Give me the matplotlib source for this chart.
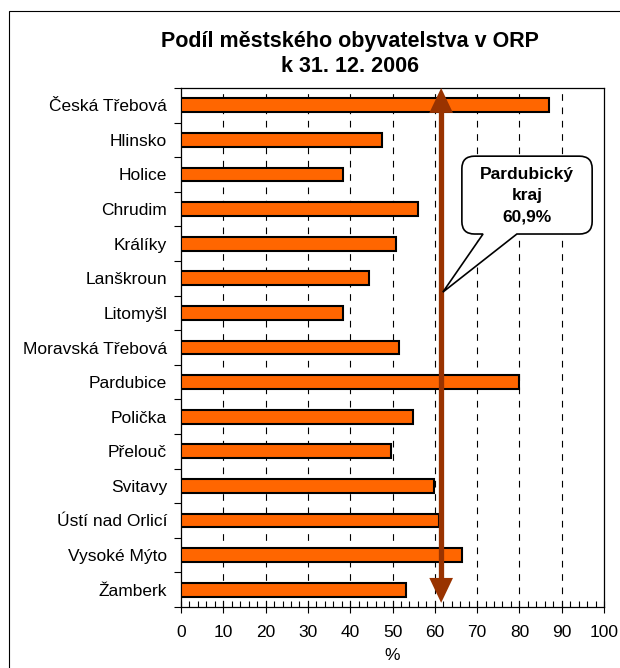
import numpy as np
import matplotlib.pyplot as plt
from matplotlib.patches import Rectangle, PathPatch, Polygon
from matplotlib.path import Path
from matplotlib.ticker import MultipleLocator

plt.rcParams['font.family'] = ['Liberation Sans', 'DejaVu Sans']

# share of urban population per ORP (%)
districts = ["Česká Třebová", "Hlinsko", "Holice", "Chrudim", "Králíky", "Lanškroun",
             "Litomyšl", "Moravská Třebová", "Pardubice", "Polička", "Přelouč",
             "Svitavy", "Ústí nad Orlicí", "Vysoké Mýto", "Žamberk"]
urban_share = [87.0, 47.6, 38.3, 56.0, 50.8, 44.4, 38.3, 51.5, 79.9, 54.9, 49.7,
               59.9, 61.0, 66.5, 53.1]
region_value = 60.9
region_label = "Pardubický\nkraj\n60,9%"
x_ticks = list(range(0, 101, 10))

fig = plt.figure(figsize=(6.2, 6.68), dpi=100)
ax = fig.add_axes([181 / 620, 1 - 607 / 668, 423 / 620, 519 / 668])

# outer chart-area frame (right/bottom run off the picture like the original)
fig.patches.append(Rectangle((9 / 620, -0.05), 1.2, 1 - 11 / 668 + 0.05,
                             transform=fig.transFigure, fill=False,
                             edgecolor="black", linewidth=0.8))

y = np.arange(len(districts))
ax.barh(y, urban_share, height=0.4, color="#FF6600", edgecolor="black",
        linewidth=1.5, zorder=3)

ax.set_xlim(0, 100)
ax.set_ylim(len(districts) - 0.5, -0.5)

# grid
for gx in x_ticks[1:-1]:
    ax.axvline(gx, color="black", linewidth=0.8, linestyle=(0, (6, 6)), zorder=1)

ax.set_xticks(x_ticks)
ax.xaxis.set_minor_locator(MultipleLocator(2))
ax.tick_params(axis="x", which="major", direction="inout", length=8, width=0.8,
               labelsize=12.5, pad=9)
ax.tick_params(axis="x", which="minor", direction="in", length=4, width=0.8)

ax.set_yticks(y)
ax.set_yticklabels(districts)
ax.set_yticks(np.arange(len(districts) + 1) - 0.5, minor=True)
ax.tick_params(axis="y", which="major", length=0, labelsize=12.5, pad=10)
ax.tick_params(axis="y", which="minor", direction="out", length=5, width=0.8)
for s in ax.spines.values():
    s.set_linewidth(0.9)

ax.set_xlabel("%", fontsize=12.5, labelpad=6)

fig.text(350 / 620, 1 - 54 / 668, "Podíl městského obyvatelstva v ORP\nk 31. 12. 2006",
         ha="center", va="center", fontsize=15.5, fontweight="bold", linespacing=1.2)

# regional average arrow: shaft + two triangular heads
arrow_col = "#993300"
arrow_x = region_value + 0.6
top, bottom = -0.5, 14.38
hw, hl = 2.8, 0.72
ax.plot([arrow_x, arrow_x], [top + hl * 0.9, bottom - hl * 0.9],
        color=arrow_col, linewidth=3.8, solid_capstyle="butt", zorder=5)
ax.add_patch(Polygon([(arrow_x, top), (arrow_x - hw, top + hl),
                      (arrow_x + hw, top + hl)], closed=True,
                     facecolor=arrow_col, edgecolor="none", zorder=5, clip_on=False))
ax.add_patch(Polygon([(arrow_x, bottom), (arrow_x - hw, bottom - hl),
                      (arrow_x + hw, bottom - hl)], closed=True,
                     facecolor=arrow_col, edgecolor="none", zorder=5, clip_on=False))

# callout bubble
x0, x1, y0, y1 = 66.4, 97.2, 1.47, 3.72
rx, ry = 3.0, 0.36
tip = (61.9, 5.4)
tb0, tb1 = 71.4, 79.4
verts = [(x0 + rx, y0), (x1 - rx, y0), (x1, y0), (x1, y0 + ry),
         (x1, y1 - ry), (x1, y1), (x1 - rx, y1),
         (tb1, y1), tip, (tb0, y1),
         (x0 + rx, y1), (x0, y1), (x0, y1 - ry),
         (x0, y0 + ry), (x0, y0), (x0 + rx, y0)]
codes = [Path.MOVETO, Path.LINETO, Path.CURVE3, Path.CURVE3,
         Path.LINETO, Path.CURVE3, Path.CURVE3,
         Path.LINETO, Path.LINETO, Path.LINETO,
         Path.LINETO, Path.CURVE3, Path.CURVE3,
         Path.LINETO, Path.CURVE3, Path.CURVE3]
ax.add_patch(PathPatch(Path(verts, codes), facecolor="white", edgecolor="black",
                       linewidth=1.2, zorder=6))
ax.text((x0 + x1) / 2, (y0 + y1) / 2 + 0.02, region_label, ha="center", va="center",
        fontsize=12.5, fontweight="bold", linespacing=1.55, zorder=7)

fig.savefig("out.png", dpi=100)
